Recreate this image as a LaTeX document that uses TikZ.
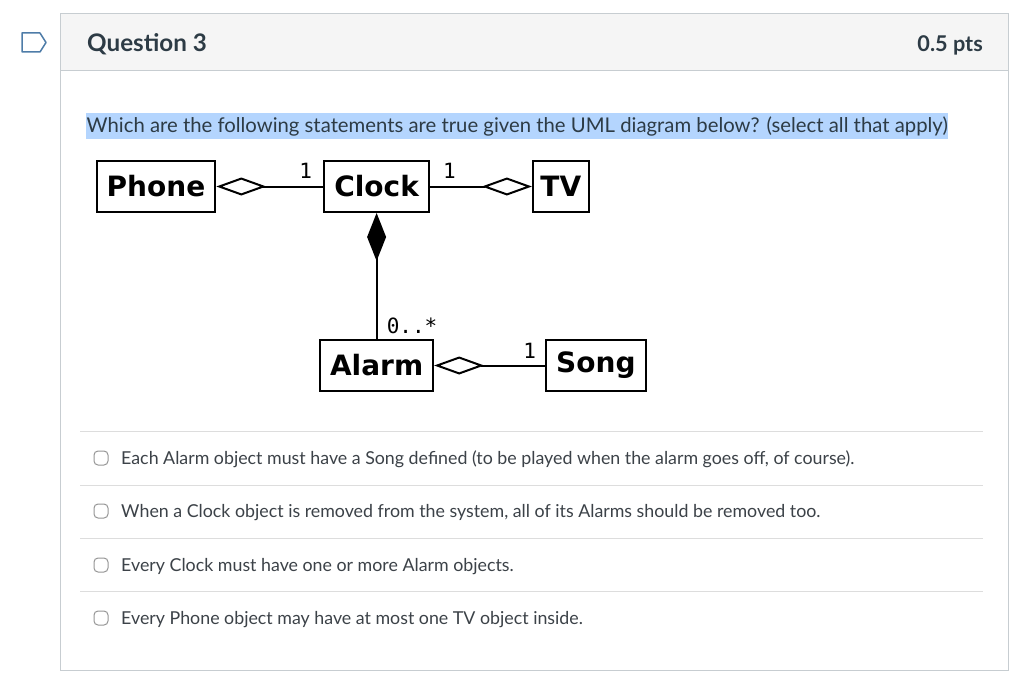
\documentclass[tikz,border=0pt]{standalone}
\usepackage{fontspec}
\setmainfont{Lato}
\newfontfamily\umlfont{DejaVu Sans}
\newfontfamily\umlmono{DejaVu Sans Mono}
\usetikzlibrary{arrows.meta, positioning}
\definecolor{CardLine}{RGB}{199, 205, 209}
\definecolor{HeadFill}{RGB}{245, 245, 245}
\definecolor{InkSlate}{RGB}{45, 59, 69}
\definecolor{OptInk}{RGB}{60, 66, 72}
\definecolor{RuleGray}{RGB}{221, 221, 221}
\definecolor{BoxGray}{RGB}{150, 150, 150}
\definecolor{MarkBlue}{RGB}{78, 124, 168}
\definecolor{SelBlue}{RGB}{180, 213, 254}
\tikzset{
  cls/.style={rectangle, draw=black, line width=2pt, minimum height=51pt,
    inner xsep=10pt, font=\umlfont\fontsize{28}{31}\selectfont\bfseries},
  mult/.style={inner sep=0pt, font=\umlmono\fontsize{21}{24}\selectfont},
  agg/.style={line width=2pt, -{Diamond[open, length=50pt, width=18pt, line width=2pt]}},
  comp/.style={line width=2pt, -{Diamond[length=48pt, width=19pt]}},
  opt/.style={anchor=base west, inner sep=0pt, text=OptInk,
    font=\fontsize{17.8}{21}\selectfont},
  cbox/.style={draw=BoxGray, line width=1pt, rounded corners=4pt,
    minimum size=14pt, inner sep=0pt},
  rule/.style={draw=RuleGray, line width=1pt},
}
\begin{document}
\begin{tikzpicture}[x=1pt, y=-1pt]
  \useasboundingbox (0,0) rectangle (1024,698);
  % card and header
  \draw[CardLine, line width=1pt, fill=white] (60,14) rectangle (1008,670);
  \draw[CardLine, line width=1pt, fill=HeadFill] (60,14) rectangle (1008,71);
  \draw[MarkBlue, line width=1.5pt, line join=round]
    (22,33) -- (40,33) -- (46,42.5) -- (40,52) -- (22,52) -- cycle;
  \node[anchor=base west, inner sep=0pt, text=InkSlate,
        font=\fontsize{24.2}{28}\selectfont\bfseries] (qtitle) at (87,52) {Question 3};
  \node[anchor=base east, inner sep=0pt, text=InkSlate,
        font=\fontsize{21.7}{25}\selectfont\bfseries] (pts) at (983,52) {0.5 pts};
  \node[anchor=base west, inner xsep=0.5pt, inner ysep=3pt, fill=SelBlue, text=InkSlate,
        font=\fontsize{20.3}{24}\selectfont] (prompt) at (86,132)
    {Which are the following statements are true given the UML diagram below? (select all that apply)};

  % UML diagram
  \node[cls] (phone) at (156,186.5) {Phone};
  \node[cls, right=107pt of phone] (clock) {Clock};
  \node[cls, right=102pt of clock, inner xsep=7.5pt] (tv) {TV};
  \node[cls, below=126pt of clock] (alarm) {Alarm};
  \node[cls, right=111pt of alarm] (song) {Song};
  \draw[agg] (clock) -- (phone);
  \draw[agg] (clock) -- (tv);
  \draw[agg] (song) -- (alarm);
  \draw[comp] (alarm.north) -- (alarm.north |- clock.south);
  \node[mult, above left=8pt and 11pt of clock.west] (m1) {1};
  \node[mult, above right=8pt and 13pt of clock.east] (m2) {1};
  \node[mult, above right=5pt and 10pt of alarm.north] (m3) {0..*};
  \node[mult, above left=7pt and 9pt of song.west] (m4) {1};

  % answer options
  \foreach \y in {431,485,538,591}
    \draw[rule] (80,\y) -- (983,\y);
  \foreach \y/\n in {458/a,511/b,565/c,618/d}
    \node[cbox] (box\n) at (101,\y) {};
  \node[opt] (opta) at (121,464)
    {Each Alarm object must have a Song defined (to be played when the alarm goes off, of course).};
  \node[opt] (optb) at (121,517)
    {When a Clock object is removed from the system, all of its Alarms should be removed too.};
  \node[opt] (optc) at (121,571)
    {Every Clock must have one or more Alarm objects.};
  \node[opt] (optd) at (121,624)
    {Every Phone object may have at most one TV object inside.};
\end{tikzpicture}
\end{document}
